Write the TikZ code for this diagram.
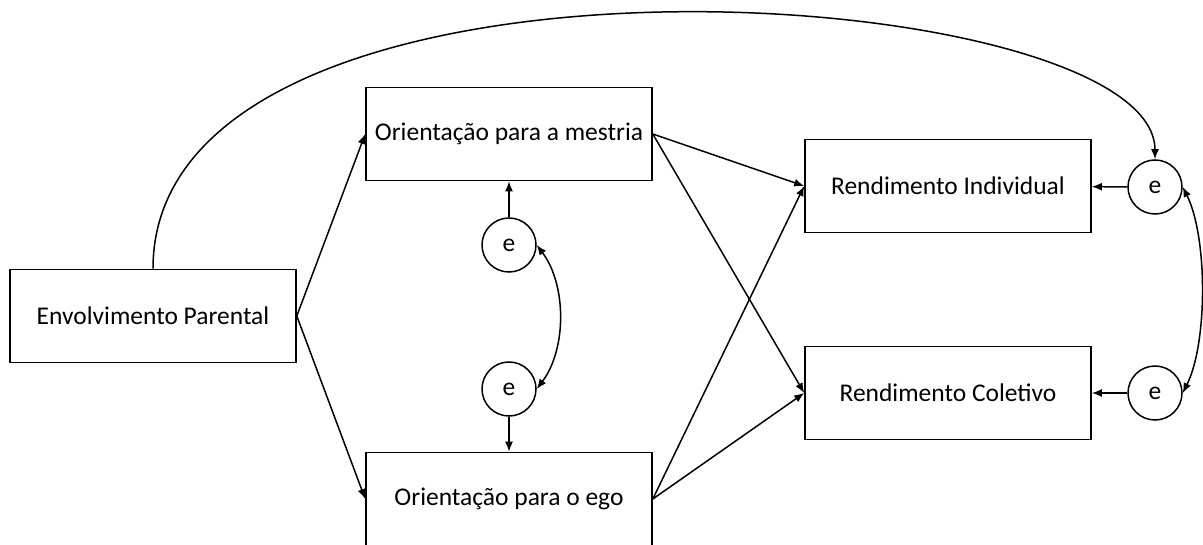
\documentclass[tikz,border=0pt]{standalone}
\usepackage{fontspec}
\setmainfont{Carlito}
\usetikzlibrary{positioning, arrows.meta}

\begin{document}
\begin{tikzpicture}[x=1pt, y=-1pt,
                box/.style={draw, line width=1.6pt, minimum width=286pt, minimum height=93pt,
                    inner sep=0pt, font=\fontsize{25.5}{30}\selectfont},
                err/.style={draw, circle, line width=1.5pt, minimum size=54pt, inner sep=0pt,
                    font=\fontsize{25.5}{30}\selectfont},
                arr/.style={-{Latex[length=10pt, width=8pt]}, line width=1.5pt},
                cov/.style={{Latex[length=10pt, width=8pt]}-{Latex[length=10pt, width=8pt]}, line width=1.5pt}]
                \useasboundingbox (0,0) rectangle (1203,545);
                % Boxes
                \node[box] (EP) at (153,316) {Envolvimento Parental};
                \node[box] (OM) at (509,134) {Orientação para a mestria};
                \node[box] (OE) at (509,499) {Orientação para o ego};
                \node[box] (RI) at (948,186) {Rendimento Individual};
                \node[box] (RC) at (948,393) {Rendimento Coletivo};

                % Errors
                \node[err] (eOM) at (509,245) {e};
                \node[err] (eOE) at (509,389) {e};
                \node[err] (eRI) at (1155,187) {e};
                \node[err] (eRC) at (1155,393) {e};

                % Paths
                \draw[arr] (EP.east) -- (OM.west);
                \draw[arr] (EP.east) -- (OE.west);
                \draw[arr] (OM.east) -- (RI.west);
                \draw[arr] (OM.east) -- (RC.west);
                \draw[arr] (OE.east) -- (RI.west);
                \draw[arr] (OE.east) -- (RC.west);
                \draw[arr] (EP.north) .. controls +(0,-355) and +(0,-180) .. (eRI.north);

                % Residuals
                \draw[arr] (eOM) -- (OM);
                \draw[arr] (eOE) -- (OE);
                \draw[arr] (eRI) -- (RI);
                \draw[arr] (eRC) -- (RC);
                \draw[cov] (eOM.east) .. controls +(30,40) and +(30,-40) .. (eOE.east);
                \draw[cov] (eRI.east) .. controls +(25,50) and +(25,-50) .. (eRC.east);
            \end{tikzpicture}
\end{document}
